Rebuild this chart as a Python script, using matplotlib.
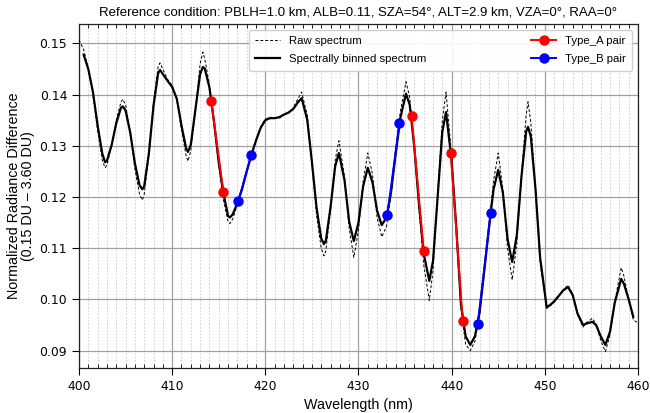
import numpy as np
import matplotlib
matplotlib.use("Agg")
import matplotlib.pyplot as plt
from matplotlib.ticker import MultipleLocator

# ---------------- data ----------------
wavelength = [
    400.0, 400.5, 401.0, 401.5, 402.0, 402.5, 402.8, 403.0, 403.5, 404.0,
    404.5, 404.7, 405.0, 405.5, 406.0, 406.5, 406.8, 407.0, 407.5, 408.0,
    408.5, 408.7, 409.0, 409.5, 410.0, 410.5, 411.0, 411.5, 411.7, 412.0,
    412.5, 413.0, 413.3, 413.5, 414.0, 414.5, 415.0, 415.5, 416.0, 416.2,
    416.5, 417.0, 417.5, 418.0, 418.5, 419.0, 419.5, 420.0, 420.5, 421.0,
    421.5, 422.0, 422.5, 423.0, 423.5, 423.9, 424.5, 425.0, 425.5, 426.0,
    426.3, 426.5, 427.0, 427.5, 427.9, 428.5, 429.0, 429.5, 430.0, 430.5,
    431.0, 431.5, 432.0, 432.5, 433.0, 433.5, 434.0, 434.5, 435.1, 435.5,
    436.0, 436.5, 437.0, 437.6, 438.0, 438.5, 439.0, 439.4, 440.0, 440.5,
    441.0, 441.5, 442.0, 442.5, 443.0, 443.5, 444.0, 444.5, 445.0, 445.5,
    446.0, 446.5, 447.0, 447.5, 448.0, 448.2, 448.5, 449.0, 449.5, 450.2,
    450.5, 451.0, 451.5, 452.0, 452.5, 453.0, 453.5, 454.1, 454.5, 455.1,
    455.5, 456.0, 456.5, 457.0, 457.5, 458.2, 458.5, 459.0, 459.5, 460.0,
]

binned = [
    np.nan, 0.1478, 0.1450, 0.1405, 0.1340, 0.1285, 0.1268, 0.1271, 0.1301, 0.1344,
    0.1374, 0.1377, 0.1369, 0.1326, 0.1266, 0.1223, 0.1215, 0.1221, 0.1285, 0.1378,
    0.1442, 0.1448, 0.1440, 0.1427, 0.1415, 0.1392, 0.1340, 0.1295, 0.1288, 0.1302,
    0.1371, 0.1440, 0.1454, 0.1451, 0.1414, 0.1346, 0.1268, 0.1208, 0.1163, 0.1160,
    0.1166, 0.1188, 0.1215, 0.1250, 0.1282, 0.1310, 0.1335, 0.1350, 0.1354, 0.1354,
    0.1356, 0.1361, 0.1365, 0.1372, 0.1385, 0.1393, 0.1351, 0.1269, 0.1179, 0.1119,
    0.1108, 0.1115, 0.1180, 0.1260, 0.1286, 0.1233, 0.1152, 0.1114, 0.1150, 0.1221,
    0.1257, 0.1229, 0.1173, 0.1145, 0.1160, 0.1210, 0.1285, 0.1355, 0.1402, 0.1380,
    0.1296, 0.1185, 0.1090, 0.1036, 0.1075, 0.1201, 0.1327, 0.1366, 0.1270, 0.1140,
    0.0990, 0.0928, 0.0911, 0.0928, 0.0975, 0.1055, 0.1140, 0.1215, 0.1253, 0.1208,
    0.1118, 0.1073, 0.1126, 0.1241, 0.1328, 0.1337, 0.1318, 0.1216, 0.1081, 0.0985,
    0.0988, 0.0996, 0.1007, 0.1018, 0.1024, 0.1008, 0.0973, 0.0950, 0.0953, 0.0956,
    0.0950, 0.0928, 0.0911, 0.0937, 0.0993, 0.1040, 0.1030, 0.1000, 0.0966, np.nan,
]

raw = [
    0.1507, 0.1488, 0.1450, 0.1400, 0.1330, 0.1272, 0.1257, 0.1262, 0.1300, 0.1350,
    0.1385, 0.1391, 0.1380, 0.1328, 0.1255, 0.1205, 0.1194, 0.1205, 0.1280, 0.1385,
    0.1455, 0.1462, 0.1450, 0.1430, 0.1418, 0.1390, 0.1332, 0.1280, 0.1270, 0.1290,
    0.1370, 0.1460, 0.1483, 0.1470, 0.1420, 0.1345, 0.1262, 0.1195, 0.1152, 0.1148,
    0.1157, 0.1185, 0.1215, 0.1250, 0.1283, 0.1312, 0.1337, 0.1352, 0.1356, 0.1353,
    0.1354, 0.1360, 0.1364, 0.1374, 0.1392, 0.1405, 0.1360, 0.1265, 0.1165, 0.1100,
    0.1085, 0.1095, 0.1175, 0.1272, 0.1310, 0.1240, 0.1140, 0.1082, 0.1135, 0.1230,
    0.1286, 0.1245, 0.1160, 0.1122, 0.1142, 0.1205, 0.1290, 0.1368, 0.1425, 0.1395,
    0.1295, 0.1175, 0.1068, 0.0998, 0.1055, 0.1205, 0.1350, 0.1405, 0.1278, 0.1135,
    0.0982, 0.0912, 0.0900, 0.0918, 0.0970, 0.1055, 0.1145, 0.1232, 0.1286, 0.1215,
    0.1100, 0.1038, 0.1110, 0.1245, 0.1360, 0.1386, 0.1345, 0.1215, 0.1070, 0.0982,
    0.0986, 0.0994, 0.1006, 0.1019, 0.1028, 0.1010, 0.0970, 0.0946, 0.0955, 0.0963,
    0.0952, 0.0920, 0.0898, 0.0930, 0.0995, 0.1062, 0.1045, 0.1000, 0.0960, 0.0954,
]

# Pair points
type_a_wl = [[414.2, 415.5], [435.7, 437.0], [439.9, 441.2]]
type_a_val = [[0.1387, 0.1210], [0.1358, 0.1095], [0.1286, 0.0958]]
type_b_wl = [[417.1, 418.5], [433.1, 434.4], [442.8, 444.2]]
type_b_val = [[0.1192, 0.1282], [0.1165, 0.1345], [0.0952, 0.1169]]

title = "Reference condition: PBLH=1.0 km, ALB=0.11, SZA=54°, ALT=2.9 km, VZA=0°, RAA=0°"

# ---------------- plot ----------------
sans = ["Liberation Sans", "DejaVu Sans"]
fig = plt.figure(figsize=(6.5, 4.13), dpi=100)
ax = fig.add_axes([0.1215, 0.109, 0.86, 0.833])

ax.plot(wavelength, raw, linestyle=(0, (3, 2)), color="black", lw=0.7,
        label="Raw spectrum", zorder=3)
ax.plot(wavelength, binned, color="black", lw=1.6, solid_joinstyle="round",
        label="Spectrally binned spectrum", zorder=4)

for i, (w, v) in enumerate(zip(type_a_wl, type_a_val)):
    ax.plot(w, v, color="red", marker="o", markersize=6.5, lw=1.4,
            label="Type_A pair" if i == 0 else None, zorder=5)
for i, (w, v) in enumerate(zip(type_b_wl, type_b_val)):
    ax.plot(w, v, color="blue", marker="o", markersize=6.5, lw=1.4,
            label="Type_B pair" if i == 0 else None, zorder=5)

ax.set_xlim(400, 460)
ax.set_ylim(0.0866, 0.1538)
ax.xaxis.set_major_locator(MultipleLocator(10))
ax.xaxis.set_minor_locator(MultipleLocator(1))
ax.yaxis.set_major_locator(MultipleLocator(0.01))
ax.yaxis.set_major_formatter(matplotlib.ticker.FormatStrFormatter("%.2f"))

ax.grid(which="major", color="#a0a0a0", lw=0.9, zorder=0)
ax.grid(which="minor", axis="x", color="#c8c8c8", lw=0.6, linestyle=(0, (2, 2)), zorder=0)
ax.set_axisbelow(True)

ax.tick_params(axis="both", which="major", direction="out", length=5, width=0.8,
               labelsize=8.9, colors="black")
ax.tick_params(axis="x", which="minor", direction="in", length=3, width=0.6,
               top=True, bottom=True)
ax.tick_params(axis="x", which="major", top=False)
for s in ax.spines.values():
    s.set_color("#222222")
    s.set_linewidth(0.9)

ax.set_xlabel("Wavelength (nm)", fontsize=10.3, family=sans, labelpad=4)
ax.set_ylabel("Normalized Radiance Difference\n(0.15 DU – 3.60 DU)",
              fontsize=10.3, family=sans, linespacing=1.0, labelpad=3)
ax.set_title(title, fontsize=9.5, family=sans, pad=6)

leg = ax.legend(loc="upper right", ncol=2, columnspacing=9.2,
                prop={"family": sans, "size": 8.2}, framealpha=0.9,
                edgecolor="#cccccc", handlelength=2.2, labelspacing=0.75,
                borderpad=0.55)

fig.savefig("out.png", dpi=100)
